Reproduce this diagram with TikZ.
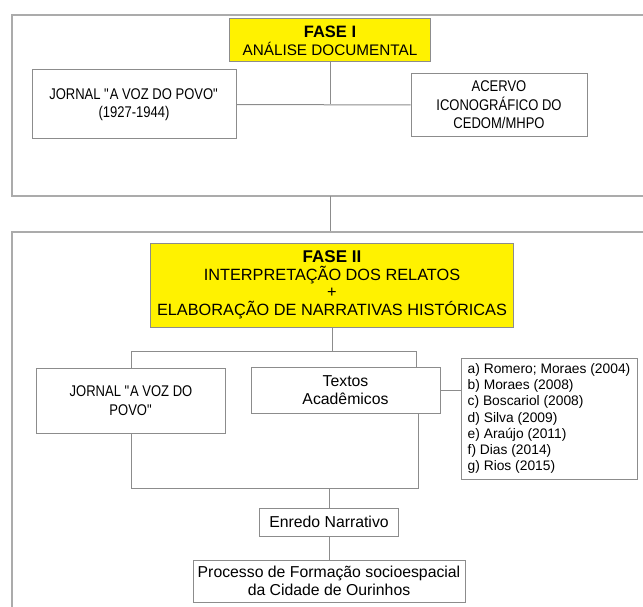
\documentclass[tikz,border=0pt]{standalone}
\usepackage{fontspec}
\setmainfont{Liberation Sans}
\newfontfamily\narrowfont{Liberation Sans}[FakeStretch=0.84]
\usetikzlibrary{positioning}
\definecolor{faseyellow}{HTML}{FFF200}
\definecolor{edgegray}{HTML}{8C8C8C}
\definecolor{moldgray}{HTML}{ABABAB}

\begin{document}
\begin{tikzpicture}[
  x=1pt, y=-1pt,
  box/.style={draw=edgegray, fill=white, line width=1pt, inner sep=0pt, align=center, font=\fontsize{15.8}{18.5}\selectfont},
  narrowbox/.style={box, font=\narrowfont\fontsize{15.5}{18.5}\selectfont},
  fase/.style={box, fill=faseyellow, font=\fontsize{16.3}{17.5}\selectfont},
  reflist/.style={box, align=left, font=\fontsize{13.8}{16.3}\selectfont},
  link/.style={draw=edgegray, line width=1pt},
  moldura/.style={draw=moldgray, line width=1.5pt},
]
\useasboundingbox (0,0) rectangle (643,607);

% fase I
\draw[moldura] (643,15) -- (12,15) -- (12,196) -- (643,196);
\node[fase, minimum width=201, minimum height=43, font=\fontsize{15.3}{18}\selectfont] (fase1) at (330,40.5)
  {{\fontsize{16.5}{18}\bfseries FASE I}\\ANÁLISE DOCUMENTAL};
\node[narrowbox, minimum width=204, minimum height=69] (jornal1) at (134,104.5)
  {JORNAL \textquotedbl A VOZ DO POVO\textquotedbl\\(1927-1944)};
\node[narrowbox, minimum width=176, minimum height=63] (acervo) at (499,105)
  {ACERVO\\ICONOGRÁFICO DO\\CEDOM/MHPO};

\draw[link] (fase1.south) -- (fase1.south |- jornal1.east);
\draw[link] (jornal1.east) -- (acervo.west);

\coordinate (f1b) at (330,196);
\coordinate (f2t) at (330,232);
\draw[link] (f1b) -- (f2t);

% fase II
\draw[moldura] (643,232) -- (12,232) -- (12,607);
\node[fase, minimum width=363, minimum height=84] (fase2) at (332,285)
  {{\fontsize{17}{18}\bfseries FASE II}\\INTERPRETAÇÃO DOS RELATOS\\+\\ELABORAÇÃO DE NARRATIVAS HISTÓRICAS};
\node[narrowbox, minimum width=189, minimum height=65] (jornal2) at (131,400.5)
  {JORNAL \textquotedbl A VOZ DO\\POVO\textquotedbl};
\node[box, minimum width=189, minimum height=46] (textos) at (345.5,390)
  {Textos\\Acadêmicos};
\node[reflist, minimum width=176, minimum height=121] (refs) at (549,418.5)
  {a) Romero; Moraes (2004)\\b) Moraes (2008)\\c) Boscariol (2008)\\d) Silva (2009)\\e) Araújo (2011)\\f) Dias (2014)\\g) Rios (2015)};
\node[box, minimum width=139, minimum height=28] (enredo) at (329,522)
  {Enredo Narrativo};
\node[box, minimum width=272, minimum height=42, below=23pt of enredo] (processo)
  {Processo de Formação socioespacial\\da Cidade de Ourinhos};

\coordinate (t2) at (416,351);
\coordinate (b2) at (418,488);
\draw[link] (fase2.south) -- (fase2.south |- t2);
\draw[link] (jornal2.north) |- (t2) -- (t2 |- textos.north);
\draw[link] (textos.east) -- (textos.east -| refs.west);
\draw[link] (jornal2.south) |- (b2) -- (b2 |- textos.south);
\draw[link] (enredo.north) -- (enredo.north |- b2);
\draw[link] (enredo) -- (processo);

\end{tikzpicture}
\end{document}
